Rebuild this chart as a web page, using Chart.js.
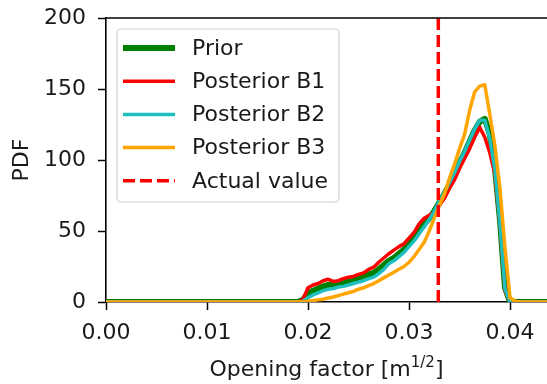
<!DOCTYPE html>
<html>
<head>
<meta charset="utf-8">
<script src="https://cdn.jsdelivr.net/npm/chart.js@4.4.1/dist/chart.umd.min.js"></script>
<style>
  html, body { margin: 0; padding: 0; background: #fff; }
  #wrap { width: 547px; height: 384px; position: relative; }
</style>
</head>
<body>
<div id="wrap"><canvas id="chart"></canvas></div>
<script>
// opening factor grid (m^1/2)
const openingFactor = [0, 0.0190, 0.0195, 0.0200, 0.0205, 0.0210, 0.0215, 0.0220, 0.0225, 0.0230, 0.0235,
  0.0240, 0.0245, 0.0250, 0.0255, 0.0260, 0.0265, 0.0270, 0.0275, 0.0280, 0.0285, 0.0290, 0.0295,
  0.0300, 0.0305, 0.0310, 0.0315, 0.0320, 0.0325, 0.0330, 0.0335, 0.0340, 0.0345, 0.0350, 0.0355,
  0.0360, 0.0365, 0.0370, 0.0375, 0.0380, 0.0385, 0.0390, 0.0395, 0.0400, 0.0405, 0.0410, 0.0450];

const prior = [0, 0, 1.5, 6, 8, 9.5, 11, 12, 12.5, 13.5, 14,
  15, 16, 17, 18, 19.5, 20.5, 23, 26, 29, 31, 34, 37,
  41, 45, 50, 55, 59, 64, 70, 76, 83, 90, 98, 105,
  113, 121, 127, 129, 118, 95, 58, 10, 0, 0, 0, 0];

const posteriorB1 = [0, 0, 2, 10, 12, 13, 15, 16, 14.5, 15, 16.5,
  17.5, 18, 19.5, 20.5, 23, 24.5, 28, 31, 34, 36.5, 39, 41,
  45, 49, 55, 59, 61, 63, 68, 73, 80, 86, 94, 101,
  108, 116, 123, 116, 105, 90, 55, 8, 0, 0, 0, 0];

const posteriorB2 = [0, 0, 0.5, 3, 5, 6.5, 8, 9, 9.5, 10.5, 11,
  12, 13, 14, 15, 16.5, 17.5, 20, 23, 27, 29, 32, 35,
  39, 43, 48, 53, 58, 64, 71, 77, 84, 91, 99, 106,
  114, 122, 128, 128, 115, 93, 55, 9, 0, 0, 0, 0];

const posteriorB3 = [0, 0, 0, 0.5, 1, 1.5, 2, 2.8, 3.5, 4.5, 5.5,
  6.5, 7.5, 9, 10, 11.5, 13, 15, 17, 19, 21, 23, 25,
  28, 32, 37, 42, 50, 59, 68, 76, 87, 97, 108, 118,
  135, 148, 152, 153, 132, 110, 80, 38, 3, 0.5, 0, 0];

const actualValue = 0.0329;

const xTicks = [0, 0.01, 0.02, 0.03, 0.04];
const yTicks = [0, 50, 100, 150, 200];

const FONT = "'DejaVu Sans', sans-serif";

function pts(ys) {
  return openingFactor.map(function(x, i) { return { x: x, y: ys[i] }; });
}

// legend drawn inside the axes, matplotlib style
const boxLegend = {
  id: 'boxLegend',
  afterDraw(chart) {
    const ctx = chart.ctx;
    const x0 = 117, y0 = 29, w = 222, h = 173;
    ctx.save();
    ctx.beginPath();
    ctx.roundRect(x0, y0, w, h, 4);
    ctx.fillStyle = 'rgba(255,255,255,0.8)';
    ctx.fill();
    ctx.strokeStyle = '#d0d0d0';
    ctx.lineWidth = 1.2;
    ctx.stroke();
    ctx.font = '22px ' + FONT;
    ctx.textBaseline = 'middle';
    ctx.fillStyle = '#1a1a1a';
    chart.data.datasets.forEach(function(ds, i) {
      const y = 48 + i * 33.2;
      ctx.beginPath();
      ctx.setLineDash(ds.borderDash || []);
      ctx.strokeStyle = ds.borderColor;
      ctx.lineWidth = ds.borderWidth;
      ctx.moveTo(123, y);
      ctx.lineTo(175, y);
      ctx.stroke();
      ctx.setLineDash([]);
      ctx.fillText(ds.label, 192, y + 1);
    });
    ctx.restore();
  }
};

// top spine and x label with superscript
const extras = {
  id: 'extras',
  afterDraw(chart) {
    const ctx = chart.ctx;
    const a = chart.chartArea;
    ctx.save();
    ctx.strokeStyle = '#000';
    ctx.lineWidth = 1.6;
    ctx.beginPath();
    ctx.moveTo(a.left, a.top);
    ctx.lineTo(a.right + 2, a.top);
    ctx.stroke();

    ctx.fillStyle = '#1a1a1a';
    ctx.textBaseline = 'alphabetic';
    const big = '22px ' + FONT, small = '15px ' + FONT;
    const p1 = 'Opening factor [m', p2 = '1/2', p3 = ']';
    ctx.font = big;
    const w1 = ctx.measureText(p1).width, w3 = ctx.measureText(p3).width;
    ctx.font = small;
    const w2 = ctx.measureText(p2).width;
    let x = (a.left + a.right) / 2 - (w1 + w2 + w3) / 2;
    const base = 376;
    ctx.font = big;
    ctx.fillText(p1, x, base);
    x += w1;
    ctx.font = small;
    ctx.fillText(p2, x, base - 9);
    x += w2;
    ctx.font = big;
    ctx.fillText(p3, x, base);
    ctx.restore();
  }
};

const ctx = document.getElementById('chart');
const myChart = new Chart(ctx, {
  type: 'line',
  data: {
    datasets: [
      { label: 'Prior', data: pts(prior), borderColor: '#008000', borderWidth: 6, order: 5 },
      { label: 'Posterior B1', data: pts(posteriorB1), borderColor: '#ff0000', borderWidth: 3.5, order: 4 },
      { label: 'Posterior B2', data: pts(posteriorB2), borderColor: '#1fbfbf', borderWidth: 3.5, order: 3 },
      { label: 'Posterior B3', data: pts(posteriorB3), borderColor: '#ffa500', borderWidth: 3.5, order: 2 },
      { label: 'Actual value', data: [{ x: actualValue, y: yTicks[0] }, { x: actualValue, y: yTicks[yTicks.length - 1] }],
        borderColor: '#ff0000', borderWidth: 3.5, borderDash: [12, 5], order: 1 }
    ]
  },
  options: {
    responsive: true,
    maintainAspectRatio: false,
    animation: false,
    devicePixelRatio: 1,
    layout: { padding: { left: 0, top: 18, right: 0, bottom: 0 } },
    elements: { point: { radius: 0 }, line: { tension: 0, borderCapStyle: 'butt', borderJoinStyle: 'round' } },
    plugins: { legend: { display: false }, tooltip: { enabled: false } },
    scales: {
      x: {
        type: 'linear',
        min: 0,
        max: 0.04366,
        afterFit(scale) { scale.height = 82; },
        afterBuildTicks(scale) { scale.ticks = xTicks.map(function(v) { return { value: v }; }); },
        grid: { drawOnChartArea: false, drawTicks: true, tickLength: 8, tickColor: '#000', tickWidth: 1.5 },
        border: { display: true, color: '#000', width: 1.6 },
        ticks: {
          color: '#1a1a1a', font: { family: FONT, size: 22 }, padding: 10, maxRotation: 0,
          callback: function(v) { return v.toFixed(2); }
        }
      },
      y: {
        min: 0,
        max: 200,
        afterFit(scale) {
          scale.width = 106;
          // keep the label overhang from pushing the plot down
          scale.paddingTop = 0;
          scale.paddingBottom = 0;
        },
        afterBuildTicks(scale) { scale.ticks = yTicks.map(function(v) { return { value: v }; }); },
        grid: { drawOnChartArea: false, drawTicks: true, tickLength: 8, tickColor: '#000', tickWidth: 1.5 },
        border: { display: true, color: '#000', width: 1.6 },
        ticks: { color: '#1a1a1a', font: { family: FONT, size: 22 }, padding: 12 },
        title: { display: true, text: 'PDF', color: '#1a1a1a', font: { family: FONT, size: 22 }, padding: { top: 9, bottom: 0 } }
      }
    }
  },
  plugins: [boxLegend, extras]
});
</script>
</body>
</html>
